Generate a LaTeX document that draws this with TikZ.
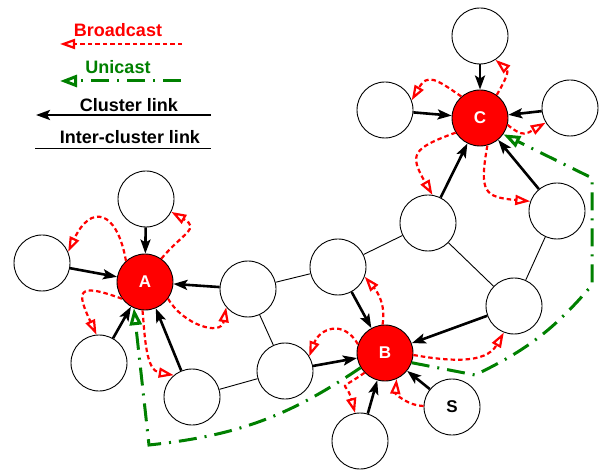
\documentclass[tikz,border=0pt]{standalone}
\usepackage{fontspec}
\setmainfont{Liberation Sans}
\usetikzlibrary{arrows.meta}

\begin{document}
\begin{tikzpicture}[x=1pt, y=1pt,
    member/.style ={circle, draw, line width=0.9pt, fill=white, minimum size=56pt, inner sep=0pt,
                    font=\fontsize{17}{17}\selectfont\bfseries},
    head/.style ={member, fill=red, text=white},
    clink/.style ={line width=2.6pt, -{Stealth[length=14pt,width=10pt,inset=3pt]}},
    ilink/.style ={line width=0.9pt},
    bcast/.style ={red, line width=2.2pt, dash pattern=on 4.5pt off 3pt,
                   -{Triangle[open,length=15pt,width=10pt]}},
    ucast/.style ={green!50!black, line width=3pt, dash pattern=on 18pt off 8pt on 2pt off 8pt,
                   -{Triangle[open,length=17pt,width=12pt]}},
    legend/.style ={font=\fontsize{18}{18}\selectfont\bfseries}]
   \useasboundingbox (0,0) rectangle (601,471);

   % legend
   \node[legend, text=red] (lbcast) at (118,441) {Broadcast};
   \coordinate (bc1) at (182,427);
   \coordinate (bc2) at (60,427);
   \node[legend, text=green!50!black] (lucast) at (118,404) {Unicast};
   \coordinate (uc1) at (181,390);
   \coordinate (uc2) at (60,390);
   \node[legend] (lclink) at (129,366) {Cluster link};
   \coordinate (cl1) at (211,356);
   \coordinate (cl2) at (36,356);
   \node[legend] (lilink) at (130,334) {Inter-cluster link};
   \coordinate (il1) at (35,323);
   \coordinate (il2) at (211,323);

   \draw[bcast] (bc1) to (bc2);
   \draw[ucast] (uc1) to (uc2);
   \draw[clink] (cl1) to (cl2);
   \draw[ilink] (il1) to (il2);

   % cluster A
   \node[head]   (A)  at (145,189) {A};
   \node[member] (a1) at (146,272) {};
   \node[member] (a2) at (42,208)  {};
   \node[member] (a3) at (99,108)  {};
   \node[member] (a4) at (192,74)  {};
   % cluster B
   \node[head]   (B)  at (385,118) {B};
   \node[member] (b1) at (360,30)  {};
   \node[member] (S)  at (452,64)  {S};
   % cluster C
   \node[head]   (C)  at (480,353) {C};
   \node[member] (c1) at (480,435) {};
   \node[member] (c2) at (385,361) {};
   \node[member] (c3) at (570,363) {};
   % gateways
   \node[member] (m1) at (248,182) {};
   \node[member] (m2) at (285,100) {};
   \node[member] (m3) at (338,204) {};
   \node[member] (m4) at (514,165) {};
   \node[member] (m5) at (428,248) {};
   \node[member] (m6) at (557,260) {};

   \draw[clink] (a1) to (A);
   \draw[clink] (a2) to (A);
   \draw[clink] (a3) to (A);
   \draw[clink] (a4) to (A);
   \draw[clink] (m1) to (A);
   \draw[clink] (m2) to (B);
   \draw[clink] (m3) to (B);
   \draw[clink] (m4) to (B);
   \draw[clink] (b1) to (B);
   \draw[clink] (S)  to (B);
   \draw[clink] (c1) to (C);
   \draw[clink] (c2) to (C);
   \draw[clink] (c3) to (C);
   \draw[clink] (m5) to (C);
   \draw[clink] (m6) to (C);

   \draw[ilink] (m1) to (m3);
   \draw[ilink] (m1) to (m2);
   \draw[ilink] (m2) to (a4);
   \draw[ilink] (m3) to (m5);
   \draw[ilink] (m5) to (m4);
   \draw[ilink] (m4) to (m6);

   % broadcasts
   \draw[bcast] (A.55)  to[out=50, in=-30, looseness=1.8] (a1.-27);
   \draw[bcast] (A.132) to[out=100, in=65, looseness=2.3] (a2.23);
   \draw[bcast] (A.216) to[out=160, in=115, looseness=2.8] (a3.95);
   \draw[bcast] (A.265) to[out=-85, in=170] (a4.130);
   \draw[bcast] (A.-36) to[out=-60, in=-100, looseness=1.3] (m1.220);

   \draw[bcast] (B.95)  to[out=80, in=-50] (m3.-20);
   \draw[bcast] (B.162) to[out=120, in=70, looseness=1.5] (m2.31);
   \draw[bcast] (B.224) to[out=215, in=105, looseness=2.2] (b1.100);
   \draw[bcast] (S.178) to[out=180, in=-95] (B.-66);
   \draw[bcast] (B.-4)  to[out=-10, in=-120] (m4.249);

   \draw[bcast] (C.54)  to[out=60, in=-40, looseness=1.3] (c1.-57);
   \draw[bcast] (C.131) to[out=145, in=60, looseness=1.6] (c2.20);
   \draw[bcast] (C.211) to[out=200, in=120, looseness=1.8] (m5.81);
   \draw[bcast] (C.-75) to[out=-100, in=175, looseness=1.7] (m6.160);
   \draw[bcast] (C.-14) to[out=-40, in=210, looseness=1.4] (c3.211);

   % unicasts
   \coordinate (u1) at (475,96);
   \coordinate (u2) at (592,186);
   \coordinate (u3) at (592,293);
   \coordinate (u4) at (149,26);
   \draw[ucast] (B.-20) -- (u1) to[bend right=12] (u2) -- (u3) -- (C.-35);
   \draw[ucast] (B.211) to[bend left=14] (u4) -- (A.247);
 \end{tikzpicture}
\end{document}
